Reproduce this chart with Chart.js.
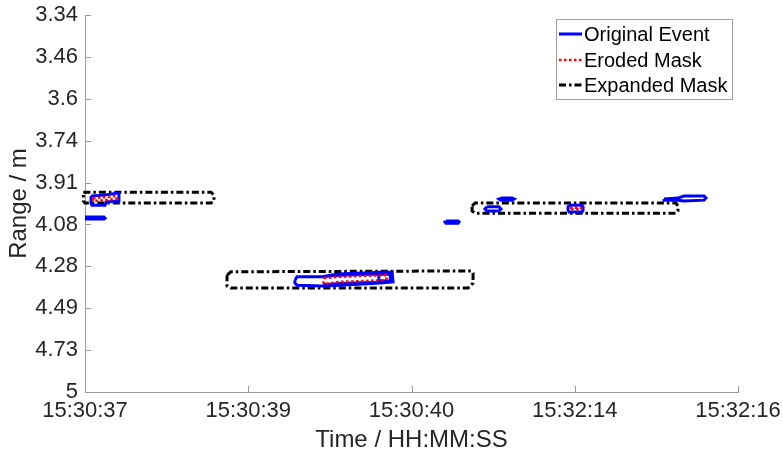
<!DOCTYPE html>
<html>
<head>
<meta charset="utf-8">
<script src="https://cdn.jsdelivr.net/npm/chart.js@4.4.1/dist/chart.umd.min.js"></script>
<style>
    html, body { margin: 0; padding: 0; background: #ffffff; }
    #wrap { width: 783px; height: 459px; }
</style>
</head>
<body>
<div id="wrap"><canvas id="cv" width="783" height="459"></canvas></div>
<script>
// axis tick labels (evenly spaced index positions)
var xTickLabels = ['15:30:37', '15:30:39', '15:30:40', '15:32:14', '15:32:16'];
var yTickLabels = ['3.34', '3.46', '3.6', '3.74', '3.91', '4.08', '4.28', '4.49', '4.73', '5'];

// contours in axis units (x = time tick index, y = range tick index)
var originalEvent = [
    [[0.037, 4.32], [0.116, 4.30], [0.202, 4.25], [0.208, 4.27], [0.208, 4.44], [0.129, 4.46], [0.123, 4.54], [0.043, 4.54], [0.037, 4.49], [0.037, 4.32]],
    [[0.0, 4.82], [0.116, 4.82], [0.123, 4.85], [0.116, 4.87], [0.0, 4.87]],
    [[1.286, 6.33], [1.299, 6.25], [1.452, 6.25], [1.550, 6.18], [1.807, 6.14], [1.881, 6.14], [1.887, 6.37], [1.807, 6.40], [1.562, 6.45], [1.452, 6.47], [1.299, 6.45], [1.286, 6.40], [1.286, 6.33]],
    [[1.46, 6.24], [1.56, 6.21], [1.87, 6.17], [1.87, 6.37], [1.56, 6.41], [1.46, 6.44]],
    [[1.80, 6.19], [1.88, 6.19], [1.88, 6.35], [1.80, 6.35], [1.80, 6.19]],
    [[2.211, 4.92], [2.285, 4.92], [2.291, 4.94], [2.285, 4.97], [2.211, 4.97], [2.205, 4.94], [2.211, 4.92]],
    [[2.462, 4.58], [2.536, 4.58], [2.548, 4.63], [2.536, 4.68], [2.462, 4.68], [2.450, 4.63], [2.462, 4.58]],
    [[2.548, 4.37], [2.616, 4.37], [2.628, 4.39], [2.616, 4.42], [2.548, 4.42], [2.536, 4.39], [2.548, 4.37]],
    [[2.965, 4.54], [3.044, 4.54], [3.051, 4.58], [3.051, 4.66], [3.044, 4.70], [2.965, 4.70], [2.959, 4.66], [2.959, 4.58], [2.965, 4.54]],
    [[3.547, 4.39], [3.632, 4.37], [3.669, 4.32], [3.792, 4.32], [3.804, 4.37], [3.792, 4.42], [3.669, 4.44], [3.632, 4.42], [3.547, 4.42], [3.547, 4.39]]
];

var erodedMask = [
    [[0.049, 4.37], [0.123, 4.35], [0.190, 4.32], [0.196, 4.37], [0.190, 4.39], [0.123, 4.42], [0.049, 4.44], [0.049, 4.37]],
    [[1.464, 6.28], [1.562, 6.25], [1.844, 6.21], [1.850, 6.25], [1.844, 6.33], [1.562, 6.37], [1.464, 6.42], [1.458, 6.35], [1.464, 6.28]],
    [[2.971, 4.60], [3.038, 4.60], [3.038, 4.64], [2.971, 4.64], [2.971, 4.60]]
];

var expandedMask = [
    [[-0.01, 4.23], [0.772, 4.23], [0.790, 4.30], [0.790, 4.44], [0.772, 4.49], [0.0, 4.49], [-0.01, 4.44], [-0.01, 4.23]],
    [[0.870, 6.21], [0.894, 6.13], [2.364, 6.11], [2.377, 6.16], [2.377, 6.40], [2.346, 6.52], [0.894, 6.52], [0.870, 6.47], [0.870, 6.21]],
    [[2.371, 4.56], [2.389, 4.49], [3.620, 4.49], [3.632, 4.56], [3.632, 4.68], [3.620, 4.73], [2.389, 4.73], [2.371, 4.68], [2.371, 4.56]]
];

var FONT = '"Liberation Sans", Arial, Helvetica, sans-serif';
var AXIS_GREY = '#9a9a9a';

// join closed contours with NaN breaks so each is its own path
function toPoints(shapes) {
    var out = [];
    for (var i = 0; i < shapes.length; i++) {
        if (i > 0) out.push({ x: NaN, y: NaN });
        for (var j = 0; j < shapes[i].length; j++) {
            out.push({ x: shapes[i][j][0], y: shapes[i][j][1] });
        }
    }
    return out;
}

// MATLAB style ticks pointing into the plot
var innerTicks = {
    id: 'innerTicks',
    afterDatasetsDraw: function (chart) {
        var ctx = chart.ctx, xs = chart.scales.x, ys = chart.scales.y;
        var a = chart.chartArea;
        ctx.save();
        ctx.strokeStyle = AXIS_GREY;
        ctx.lineWidth = 1;
        ctx.beginPath();
        for (var i = 0; i < xTickLabels.length; i++) {
            var px = Math.round(xs.getPixelForValue(i)) + 0.5;
            ctx.moveTo(px, a.bottom);
            ctx.lineTo(px, a.bottom - 6);
        }
        for (var k = 0; k < yTickLabels.length; k++) {
            var py = Math.round(ys.getPixelForValue(k)) + 0.5;
            ctx.moveTo(a.left, py);
            ctx.lineTo(a.left + 6, py);
        }
        ctx.stroke();
        ctx.restore();
    }
};

// boxed legend in the upper right corner
var boxLegend = {
    id: 'boxLegend',
    afterDraw: function (chart) {
        var ctx = chart.ctx;
        var x0 = 556, y0 = 19, x1 = 732, y1 = 99;
        ctx.save();
        ctx.fillStyle = '#ffffff';
        ctx.fillRect(x0, y0, x1 - x0, y1 - y0);
        ctx.strokeStyle = '#a0a0a0';
        ctx.lineWidth = 1;
        ctx.strokeRect(x0 + 0.5, y0 + 0.5, x1 - x0, y1 - y0);
        var rows = [34, 60, 85];
        chart.data.datasets.forEach(function (ds, i) {
            ctx.beginPath();
            ctx.strokeStyle = ds.borderColor;
            ctx.lineWidth = ds.borderWidth;
            ctx.setLineDash(ds.borderDash || []);
            ctx.moveTo(559, rows[i]);
            ctx.lineTo(582, rows[i]);
            ctx.stroke();
            ctx.setLineDash([]);
            ctx.fillStyle = '#000000';
            ctx.font = '20px ' + FONT;
            ctx.textBaseline = 'middle';
            ctx.fillText(ds.label, 584, rows[i] + 1);
        });
        ctx.restore();
    }
};

var ctx = document.getElementById('cv').getContext('2d');
var chart = new Chart(ctx, {
    type: 'line',
    data: {
        datasets: [{
            label: 'Original Event',
            data: toPoints(originalEvent),
            borderColor: '#0000ff',
            borderWidth: 3,
            order: 1
        }, {
            label: 'Eroded Mask',
            data: toPoints(erodedMask),
            borderColor: '#ff0000',
            borderWidth: 2.5,
            borderDash: [2.5, 2.5],
            order: 0
        }, {
            label: 'Expanded Mask',
            data: toPoints(expandedMask),
            borderColor: '#000000',
            borderWidth: 3,
            borderDash: [7, 3, 2.5, 3],
            clip: false,
            order: 2
        }]
    },
    options: {
        responsive: false,
        animation: false,
        spanGaps: false,
        elements: {
            point: { radius: 0, hoverRadius: 0 },
            line: { tension: 0, fill: false }
        },
        layout: { padding: { top: 15, right: 45, left: 0, bottom: 0 } },
        plugins: {
            legend: { display: false },
            tooltip: { enabled: false }
        },
        scales: {
            x: {
                type: 'linear',
                min: 0,
                max: 4,
                grid: { display: true, drawOnChartArea: false, drawTicks: false },
                border: { color: AXIS_GREY, width: 1 },
                ticks: {
                    stepSize: 1,
                    padding: 6,
                    color: '#262626',
                    font: { family: FONT, size: 22 },
                    maxRotation: 0,
                    callback: function (v) { return xTickLabels[v]; }
                },
                title: {
                    display: true,
                    text: 'Time / HH:MM:SS',
                    color: '#262626',
                    font: { family: FONT, size: 24 },
                    padding: { top: 0 }
                },
                afterFit: function (s) {
                    s.height = 67;
                    s.paddingLeft = 0;
                    s.paddingRight = 0;
                }
            },
            y: {
                type: 'linear',
                min: 0,
                max: 9,
                reverse: true,
                grid: { display: true, drawOnChartArea: false, drawTicks: false },
                border: { color: AXIS_GREY, width: 1 },
                ticks: {
                    stepSize: 1,
                    padding: 7,
                    color: '#262626',
                    font: { family: FONT, size: 22 },
                    callback: function (v) { return yTickLabels[v]; }
                },
                title: {
                    display: true,
                    text: 'Range / m',
                    color: '#262626',
                    font: { family: FONT, size: 24 },
                    padding: { top: 5, bottom: 0 }
                },
                afterFit: function (s) {
                    s.width = 85;
                    s.paddingTop = 0;
                    s.paddingBottom = 0;
                }
            }
        }
    },
    plugins: [innerTicks, boxLegend]
});
</script>
</body>
</html>
